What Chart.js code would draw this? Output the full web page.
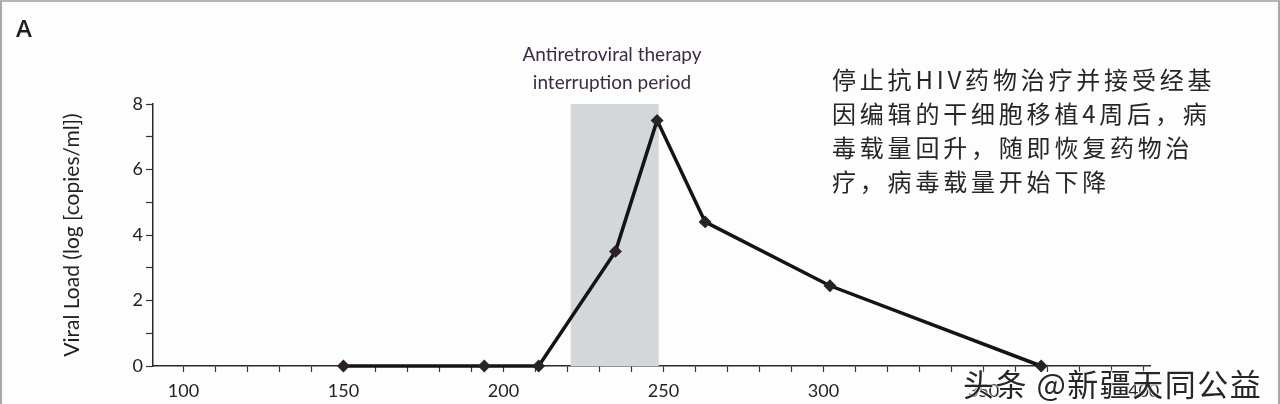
<!DOCTYPE html>
<html lang="zh">
<head>
    <meta charset="UTF-8">
    <title>Viral Load</title>
    <script src="https://cdn.jsdelivr.net/npm/chart.js"></script>
    <style>
        body {
            margin: 0;
            background: #ffffff;
        }
        .wrap {
            position: relative;
            width: 1280px;
            height: 404px;
            overflow: hidden;
            background: #fdfdfd;
        }
        .frame {
            position: absolute;
            left: 0; top: 0;
            width: 1276px; height: 402px;
            border-left: 2px solid #a8a8a8;
            border-top: 2px solid #b4b4b4;
            border-right: 2px solid #a8a8a8;
            pointer-events: none;
        }
        .panel {
            position: absolute;
            left: 16px; top: 11px;
            font: 600 24px 'Open Sans', Arial, sans-serif;
            color: #1e1e1e;
        }
        .period {
            position: absolute;
            left: 502px; top: 40px;
            width: 220px;
            text-align: center;
            font: 19px Lato, sans-serif;
            line-height: 28px;
            color: #3b2b45;
        }
        .note {
            position: absolute;
            left: 832px; top: 62px;
            font: 24px 'Noto Sans CJK SC', sans-serif;
            letter-spacing: 3.8px;
            line-height: 34px;
            color: #262626;
        }
        .mark {
            position: absolute;
            left: 963px; top: 360px;
            font: 31px 'Noto Sans CJK SC', sans-serif;
            letter-spacing: 1.5px;
            color: #262626;
            text-shadow: 0 0 2px #fff, 0 0 2px #fff, 0 0 3px #fff;
            white-space: nowrap;
        }
        canvas { position: absolute; left: 0; top: 0; }
    </style>
</head>
<body>
<div class="wrap">
    <canvas id="viralChart" width="1280" height="404"></canvas>
    <div class="panel">A</div>
    <div class="period">Antiretroviral therapy<br>interruption period</div>
    <div class="note">停止抗HIV药物治疗并接受经基<br>因编辑的干细胞移植4周后，病<br>毒载量回升，随即恢复药物治<br>疗，病毒载量开始下降</div>
    <div class="mark">头条 @新疆天同公益</div>
    <div class="frame"></div>
</div>

<script>
    // days after transplant / log copies per ml
    const days = [150, 194, 211, 235, 248, 263, 302, 368];
    const viralLoad = [0, 0, 0, 3.5, 7.5, 4.4, 2.45, 0];
    // therapy interruption window (days)
    const interruption = [221, 248.5];
    const xTickLabels = [100, 150, 200, 250, 300, 350, 400];
    const yTickLabels = [0, 2, 4, 6, 8];

    // grey band behind the line
    const bandPlugin = {
        id: 'band',
        beforeDatasetsDraw(chart) {
            const { ctx, scales: { x, y } } = chart;
            const x0 = x.getPixelForValue(interruption[0]);
            const x1 = x.getPixelForValue(interruption[1]);
            const top = y.getPixelForValue(8);
            const bottom = y.getPixelForValue(0);
            ctx.save();
            ctx.fillStyle = '#d4d7da';
            ctx.fillRect(x0, top, x1 - x0, bottom - top);
            ctx.restore();
        }
    };

    const ctx = document.getElementById('viralChart').getContext('2d');
    new Chart(ctx, {
        type: 'line',
        data: {
            datasets: [{
                data: days.map((d, i) => ({ x: d, y: viralLoad[i] })),
                borderColor: '#141414',
                borderWidth: 3.5,
                pointStyle: 'rectRot',
                pointRadius: 4,
                pointBackgroundColor: '#2a2226',
                pointBorderColor: '#2a2226',
                tension: 0,
                clip: false
            }]
        },
        options: {
            responsive: false,
            animation: false,
            layout: { padding: { top: 104, left: 0, right: 130, bottom: 0 } },
            plugins: { legend: { display: false }, tooltip: { enabled: false } },
            scales: {
                x: {
                    type: 'linear',
                    min: 90.5,
                    max: 402,
                    afterBuildTicks(scale) {
                        const t = [];
                        for (let v = 100; v <= 400; v += 10) t.push({ value: v });
                        scale.ticks = t;
                    },
                    afterFit(scale) { scale.height = 38; },
                    ticks: {
                        autoSkip: false,
                        maxRotation: 0,
                        padding: 8,
                        color: '#222',
                        font: { family: 'Lato', size: 18 },
                        callback: v => xTickLabels.includes(v) ? String(v) : ''
                    },
                    grid: {
                        drawOnChartArea: false,
                        tickLength: 6,
                        tickColor: '#333',
                        tickWidth: 1.2
                    },
                    border: { color: '#2a2a2a', width: 1.5 }
                },
                y: {
                    min: 0,
                    max: 8,
                    afterBuildTicks(scale) {
                        const t = [];
                        for (let v = 0; v <= 8; v += 1) t.push({ value: v });
                        scale.ticks = t;
                    },
                    afterFit(scale) { scale.width = 153; },
                    ticks: {
                        autoSkip: false,
                        padding: 3,
                        color: '#222',
                        font: { family: 'Lato', size: 18 },
                        callback: v => yTickLabels.includes(v) ? String(v) : ''
                    },
                    grid: {
                        drawOnChartArea: false,
                        tickLength: 7,
                        tickColor: '#333',
                        tickWidth: 1.2
                    },
                    border: { color: '#2a2a2a', width: 1.5 },
                    title: {
                        display: true,
                        text: 'Viral Load (log [copies/ml])',
                        color: '#222',
                        font: { family: 'Lato', size: 21 },
                        padding: { top: 60, bottom: 0 }
                    }
                }
            }
        },
        plugins: [bandPlugin]
    });
</script>
</body>
</html>
